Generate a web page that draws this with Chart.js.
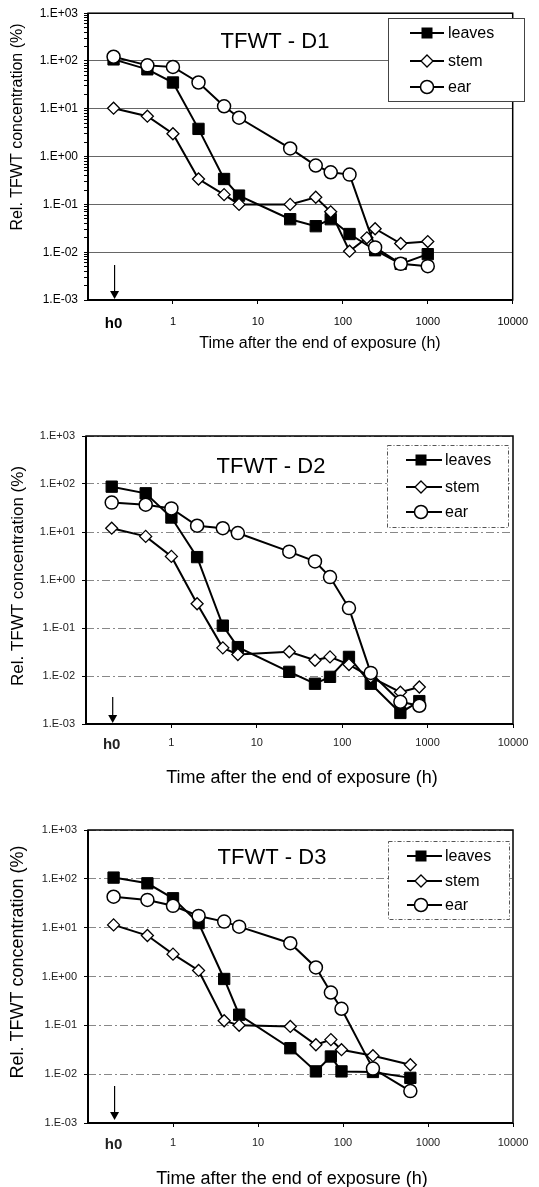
<!DOCTYPE html>
<html><head><meta charset="utf-8">
<script src="https://cdn.jsdelivr.net/npm/chart.js@4.4.1/dist/chart.umd.min.js"></script>
<style>
html,body{margin:0;padding:0;background:#fff;}
body{width:539px;height:1187px;position:relative;overflow:hidden;}
canvas{position:absolute;left:0;}
</style></head>
<body>
<canvas id="c1" width="539" height="400" style="top:0px"></canvas>
<canvas id="c2" width="539" height="410" style="top:400px"></canvas>
<canvas id="c3" width="539" height="377" style="top:810px"></canvas>
<script>
// ---------- DATA ----------
const seriesNames = ['leaves', 'stem', 'ear'];
const xTickValues = [0.2, 1, 10, 100, 1000, 10000];
const xTickLabels = ['h0', '1', '10', '100', '1000', '10000'];
const yTickValues = [0.001, 0.01, 0.1, 1, 10, 100, 1000];
const yTickLabels = ['1.E-03', '1.E-02', '1.E-01', '1.E+00', '1.E+01', '1.E+02', '1.E+03'];
const h0Value = 0.2;

// Panel D1
const d1Time      = [0.2, 0.5, 1, 2, 4, 6, 24, 48, 72, 120, 240, 480, 1000];
const d1Leaves    = [108, 67, 35.5, 3.8, 0.34, 0.153, 0.049, 0.035, 0.049, 0.024, 0.011, 0.0057, 0.0091];
const d1StemTime  = [0.2, 0.5, 1, 2, 4, 6, 24, 48, 72, 120, 192, 240, 480, 1000];
const d1Stem      = [10.3, 7.0, 3.0, 0.34, 0.16, 0.10, 0.10, 0.141, 0.07, 0.0105, 0.020, 0.031, 0.0152, 0.0167];
const d1Ear       = [123, 81, 75, 35.5, 11.3, 6.5, 1.48, 0.65, 0.47, 0.42, 0.0126, 0.0057, 0.0051];

// Panel D2
const d2Time      = [0.2, 0.5, 1, 2, 4, 6, 24, 48, 72, 120, 216, 480, 800];
const d2Leaves    = [88, 64, 20, 3.0, 0.112, 0.040, 0.0122, 0.0069, 0.0096, 0.025, 0.0069, 0.0017, 0.0030];
const d2Stem      = [12, 8.1, 3.1, 0.32, 0.0386, 0.028, 0.032, 0.0213, 0.025, 0.0173, 0.0095, 0.0046, 0.0059];
const d2Ear       = [41, 37, 31, 13.5, 12, 9.5, 3.9, 2.44, 1.15, 0.26, 0.0116, 0.0029, 0.0024];

// Panel D3
const d3Time      = [0.2, 0.5, 1, 2, 4, 6, 24, 48, 72, 96, 225, 620];
const d3Leaves    = [106, 81, 40, 12.4, 0.89, 0.165, 0.034, 0.0114, 0.023, 0.0114, 0.0111, 0.0084];
const d3Stem      = [11.4, 6.9, 2.87, 1.33, 0.124, 0.10, 0.095, 0.040, 0.051, 0.0317, 0.0239, 0.0156];
const d3Ear       = [43, 37, 28, 17.4, 13.3, 10.5, 4.8, 1.53, 0.47, 0.218, 0.013, 0.0045];

const xTitle = 'Time after the end of exposure (h)';
const yTitle = 'Rel. TFWT concentration (%)';

// ---------- RENDERING ----------
const FONT = '"Liberation Sans", Arial, Helvetica, sans-serif';
const styles = [
  {pointStyle: 'rect', radius: 8, bg: '#000', bw: 1},
  {pointStyle: 'rectRot', radius: 6, bg: '#fff', bw: 1.3},
  {pointStyle: 'circle', radius: 6.5, bg: '#fff', bw: 1.5}
];

function pairs(t, v) { return t.map((x, i) => ({x: x, y: v[i]})); }
function isMajor(v) { const l = Math.log10(v); return Math.abs(l - Math.round(l)) < 1e-9; }

function drawMarker(ctx, idx, x, y) {
  ctx.save();
  ctx.setLineDash([]);
  ctx.strokeStyle = '#000';
  if (idx === 0) {
    ctx.fillStyle = '#000';
    ctx.fillRect(x - 5.5, y - 5.5, 11, 11);
  } else if (idx === 1) {
    ctx.lineWidth = 1.3; ctx.fillStyle = '#fff';
    ctx.beginPath(); ctx.moveTo(x, y - 6); ctx.lineTo(x + 6, y); ctx.lineTo(x, y + 6); ctx.lineTo(x - 6, y); ctx.closePath();
    ctx.fill(); ctx.stroke();
  } else {
    ctx.lineWidth = 1.5; ctx.fillStyle = '#fff';
    ctx.beginPath(); ctx.arc(x, y, 6.5, 0, Math.PI * 2); ctx.fill(); ctx.stroke();
  }
  ctx.restore();
}

function decor(p) {
  return {
    id: 'decor' + p.id,
    afterDatasetsDraw(chart) {
      const ctx = chart.ctx, a = chart.chartArea, xs = chart.scales.x;
      ctx.save();
      ctx.setLineDash([]);
      // frame
      ctx.strokeStyle = '#000';
      ctx.lineWidth = 1.5;
      ctx.strokeRect(a.left, a.top, a.right - a.left, a.bottom - a.top);
      ctx.lineWidth = 2;
      ctx.beginPath(); ctx.moveTo(a.left, a.top); ctx.lineTo(a.left, a.bottom); ctx.lineTo(a.right, a.bottom); ctx.stroke();
      // arrow at h0
      const ax = xs.getPixelForValue(h0Value) + 1;
      ctx.lineWidth = 1.2;
      ctx.beginPath(); ctx.moveTo(ax, p.arrowTop); ctx.lineTo(ax, p.arrowTip - 6); ctx.stroke();
      ctx.fillStyle = '#000';
      ctx.beginPath(); ctx.moveTo(ax - 4.5, p.arrowTip - 8); ctx.lineTo(ax + 4.5, p.arrowTip - 8); ctx.lineTo(ax, p.arrowTip); ctx.closePath(); ctx.fill();
      // panel title
      ctx.fillStyle = '#000';
      ctx.font = '22px ' + FONT;
      ctx.textAlign = 'center'; ctx.textBaseline = 'alphabetic';
      ctx.fillText(p.title, p.titleX, p.titleY);
      // legend
      const L = p.legend;
      ctx.fillStyle = '#fff';
      ctx.fillRect(L.x, L.y, L.w, L.h);
      ctx.strokeStyle = L.dash ? '#555' : '#444';
      ctx.lineWidth = 1;
      ctx.setLineDash(L.dash ? [4, 2, 1, 2] : []);
      ctx.strokeRect(L.x + 0.5, L.y + 0.5, L.w, L.h);
      ctx.setLineDash([]);
      seriesNames.forEach((n, i) => {
        const ry = L.rows[i];
        ctx.strokeStyle = '#000'; ctx.lineWidth = 2;
        ctx.beginPath(); ctx.moveTo(L.lx1, ry); ctx.lineTo(L.lx2, ry); ctx.stroke();
        drawMarker(ctx, i, L.mx, ry);
        ctx.fillStyle = '#000';
        ctx.font = '16px ' + FONT;
        ctx.textAlign = 'left'; ctx.textBaseline = 'middle';
        ctx.fillText(n, L.tx, ry + 1);
      });
      // axis titles
      ctx.fillStyle = '#000';
      ctx.font = p.xtSize + 'px ' + FONT;
      ctx.textAlign = 'center'; ctx.textBaseline = 'alphabetic';
      ctx.fillText(xTitle, p.xtX, p.xtY);
      ctx.save();
      ctx.translate(p.ytX, p.ytY);
      ctx.rotate(-Math.PI / 2);
      ctx.font = p.ytSize + 'px ' + FONT;
      ctx.textAlign = 'center'; ctx.textBaseline = 'middle';
      ctx.fillText(yTitle, 0, 0);
      ctx.restore();
      ctx.restore();
    }
  };
}

function makeChart(p) {
  const H = p.H;
  const xAxisH = 30;
  const datasets = p.series.map((s, i) => ({
    label: seriesNames[i],
    data: pairs(s.t, s.v),
    borderColor: '#000',
    borderWidth: 2,
    backgroundColor: styles[i].bg,
    pointStyle: styles[i].pointStyle,
    pointRadius: styles[i].radius,
    pointBackgroundColor: styles[i].bg,
    pointBorderColor: '#000',
    pointBorderWidth: styles[i].bw,
    tension: 0,
    fill: false,
    order: 2 - i
  }));
  let yVals = yTickValues.slice();
  if (p.minor) {
    yVals = [];
    for (let e = -3; e < 3; e++) for (let m = 1; m < 10; m++) yVals.push(m * Math.pow(10, e));
    yVals.push(1000);
  }
  return new Chart(document.getElementById(p.id), {
    type: 'line',
    data: {datasets},
    options: {
      responsive: false,
      animation: false,
      events: [],
      layout: {padding: {left: 0, top: p.area.top, right: 539 - p.area.right, bottom: H - p.area.bottom - xAxisH}},
      plugins: {legend: {display: false}, tooltip: {enabled: false}},
      scales: {
        x: {
          type: 'logarithmic', min: 0.1, max: 10000,
          afterBuildTicks: s => { s.ticks = xTickValues.map(v => ({value: v})); },
          afterFit: s => { s.height = xAxisH; },
          ticks: {
            autoSkip: false, maxRotation: 0, minRotation: 0,
            padding: p.xPad, color: p.tickColor,
            font: c => (c.tick && c.tick.value === h0Value)
              ? {family: FONT, size: 15, weight: 'bold'}
              : {family: FONT, size: 11},
            callback: v => { const k = xTickValues.indexOf(v); return k >= 0 ? xTickLabels[k] : ''; }
          },
          grid: {
            drawOnChartArea: false, drawTicks: true, tickLength: 4,
            tickColor: c => (c.tick && c.tick.value === h0Value) ? 'rgba(0,0,0,0)' : '#000',
            tickWidth: 1
          },
          border: {display: false}
        },
        y: {
          type: 'logarithmic', min: 0.001, max: 1000,
          afterBuildTicks: s => { s.ticks = yVals.map(v => ({value: v})); },
          afterFit: s => { s.width = p.area.left; },
          ticks: {
            autoSkip: false, padding: p.yPad, color: p.tickColor,
            font: {family: FONT, size: p.yFont},
            callback: v => {
              if (!isMajor(v)) return '';
              const k = yTickValues.findIndex(t => Math.abs(Math.log10(t) - Math.log10(v)) < 1e-6);
              return k >= 0 ? yTickLabels[k] : '';
            }
          },
          grid: {
            drawOnChartArea: true, drawTicks: true, tickLength: 4,
            color: c => (c.tick && isMajor(c.tick.value)) ? p.gridColor : 'rgba(0,0,0,0)',
            lineWidth: 1,
            tickColor: '#000', tickWidth: 1
          },
          border: {display: false, dash: p.gridDash}
        }
      }
    },
    plugins: [decor(p)]
  });
}

makeChart({
  id: 'c1', H: 400, minor: true,
  area: {left: 88, right: 521, top: 10, bottom: 300},
  xPad: 11, yPad: 6, yFont: 12, tickColor: '#000',
  gridColor: '#666', gridDash: [],
  series: [{t: d1Time, v: d1Leaves}, {t: d1StemTime, v: d1Stem}, {t: d1Time, v: d1Ear}],
  title: 'TFWT - D1', titleX: 275, titleY: 48,
  legend: {x: 388, y: 18, w: 136, h: 83, dash: false, rows: [33, 61, 87], lx1: 410, lx2: 444, mx: 427, tx: 448},
  xtX: 320, xtY: 348, xtSize: 16,
  ytX: 18, ytY: 127, ytSize: 16,
  arrowTop: 265, arrowTip: 299
});

makeChart({
  id: 'c2', H: 410, minor: false,
  area: {left: 86, right: 513, top: 36, bottom: 324},
  xPad: 8, yPad: 7, yFont: 11, tickColor: '#222',
  gridColor: '#888', gridDash: [8, 3, 2, 3],
  series: [{t: d2Time, v: d2Leaves}, {t: d2Time, v: d2Stem}, {t: d2Time, v: d2Ear}],
  title: 'TFWT - D2', titleX: 271, titleY: 73,
  legend: {x: 387, y: 45, w: 121, h: 82, dash: true, rows: [60, 87, 112], lx1: 406, lx2: 442, mx: 421, tx: 445},
  xtX: 302, xtY: 383, xtSize: 18,
  ytX: 18, ytY: 176, ytSize: 17,
  arrowTop: 297, arrowTip: 323
});

makeChart({
  id: 'c3', H: 377, minor: false,
  area: {left: 88, right: 513, top: 20, bottom: 313},
  xPad: 9, yPad: 7, yFont: 11, tickColor: '#222',
  gridColor: '#888', gridDash: [8, 3, 2, 3],
  series: [{t: d3Time, v: d3Leaves}, {t: d3Time, v: d3Stem}, {t: d3Time, v: d3Ear}],
  title: 'TFWT - D3', titleX: 272, titleY: 54,
  legend: {x: 388, y: 31, w: 121, h: 78, dash: true, rows: [46, 71, 95], lx1: 407, lx2: 442, mx: 421, tx: 445},
  xtX: 292, xtY: 374, xtSize: 18,
  ytX: 18, ytY: 152, ytSize: 18,
  arrowTop: 276, arrowTip: 310
});
</script>
</body></html>
